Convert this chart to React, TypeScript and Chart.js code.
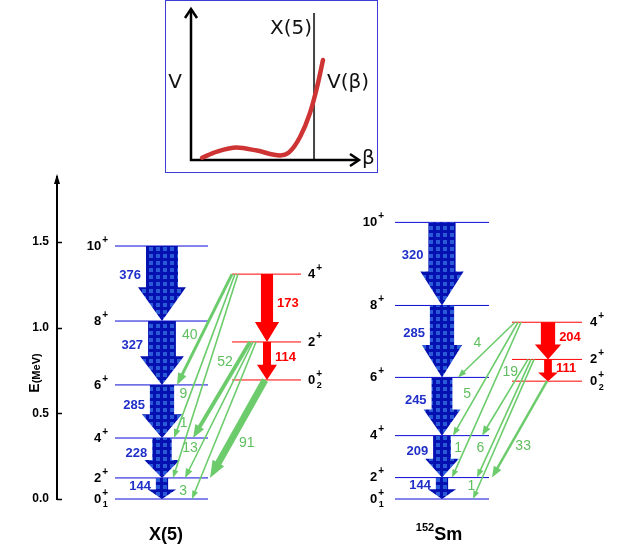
import React, { useEffect, useRef } from "react";
import { Chart, registerables } from "chart.js";
Chart.register(...registerables);

const FONT = "'Liberation Sans', Arial, sans-serif";
const INSET_FONT = "'DejaVu Sans', Verdana, sans-serif";

// ---------- data ----------
const groundSpins = ["0", "2", "4", "6", "8", "10"];
const bandSpins = ["0", "2", "4"];
// level energies (MeV)
const x5Ground = [0, 0.123, 0.356, 0.666, 1.039, 1.477];
const x5Band = [0.695, 0.917, 1.313];
const smGround = [0, 0.125, 0.37, 0.71, 1.13, 1.615];
const smBand = [0.688, 0.815, 1.032];
// B(E2) values, in-band (2->0, 4->2, ...)
const x5GroundBE2 = [144, 228, 285, 327, 376];
const x5BandBE2 = [114, 173];
const smGroundBE2 = [144, 209, 245, 285, 320];
const smBandBE2 = [111, 204];
// inter-band transitions: band level index -> ground level index
const interFrom = [2, 2, 2, 1, 1, 1, 0];
const interTo = [3, 2, 1, 2, 1, 0, 1];
const x5Inter = [40, 9, 1, 52, 13, 3, 91];
const smInter = [4, 5, 1, 19, 6, 1, 33];
// axis
const axisTicks = [0, 0.5, 1.0, 1.5];
const energyMax = 1.88;
const columnNames = ["X(5)", "Sm"];

// inset potential V(beta)
const betaVals = [0.065, 0.154, 0.27, 0.39, 0.527, 0.58, 0.645, 0.704, 0.746, 0.781];
const potVals = [0.015, 0.055, 0.082, 0.062, 0.03, 0.05, 0.151, 0.309, 0.48, 0.658];
const wallBeta = 0.728;

// ---------- layout (x in units from the energy axis) ----------
const x5Layout = {
  groundX: [58, 151], bandX: [175, 244], gCenter: 105, bCenter: 210,
  gLabelX: 51, bLabelX: 251, nameX: 109,
  interStart: [175, 178, 181, 193, 196, 199, 208],
  interEnd: [120, 117, 116, 136, 128, 135, 153],
  labT: [0.55, 0.73, 0.73, 0.21, 0.78, 0.95, 0.64],
  labDx: [-12, -7, -7, -13, -10, -12, 17],
};
const smLayout = {
  groundX: [338, 432], bandX: [455, 525], gCenter: 385, bCenter: 491,
  gLabelX: 327, bLabelX: 533, nameX: 382,
  interStart: [458, 461, 464, 471, 474, 477, 490],
  interEnd: [401, 396, 395, 425, 420, 416, 435],
  labT: [0.38, 0.63, 0.81, 0.17, 0.75, 0.91, 0.67],
  labDx: [-16, -10, -7, -10, -10, -7, 13],
};

const columns = [
  { ground: x5Ground, band: x5Band, gBE2: x5GroundBE2, bBE2: x5BandBE2, inter: x5Inter, L: x5Layout, name: columnNames[0] },
  { ground: smGround, band: smBand, gBE2: smGroundBE2, bBE2: smBandBE2, inter: smInter, L: smLayout, name: columnNames[1] },
];

const BLUE_LINE = "#0a0ad8";
const BLUE_TEXT = "#1f2fc8";
const RED = "#ff0000";
const GREEN = "#6ccc6c";
const GREEN_TEXT = "#5fbf5f";

function makePattern(ctx: CanvasRenderingContext2D) {
  const c = document.createElement("canvas");
  c.width = 7; c.height = 7;
  const p = c.getContext("2d")!;
  p.fillStyle = "#0410b0";
  p.fillRect(0, 0, 7, 7);
  p.fillStyle = "#2a5ad8";
  p.fillRect(2, 2, 4, 4);
  return ctx.createPattern(c, "repeat")!;
}

function blockArrow(ctx: CanvasRenderingContext2D, cx: number, y0: number, y1: number, sw: number, hw: number, hl: number, fill: any) {
  ctx.fillStyle = fill;
  ctx.beginPath();
  ctx.moveTo(cx - sw / 2, y0);
  ctx.lineTo(cx + sw / 2, y0);
  ctx.lineTo(cx + sw / 2, y1 - hl);
  ctx.lineTo(cx + hw / 2, y1 - hl);
  ctx.lineTo(cx, y1);
  ctx.lineTo(cx - hw / 2, y1 - hl);
  ctx.lineTo(cx - sw / 2, y1 - hl);
  ctx.closePath();
  ctx.fill();
}

function lineArrow(ctx: CanvasRenderingContext2D, x0: number, y0: number, x1: number, y1: number, w: number, hl: number, hw: number, color: string) {
  const dx = x1 - x0, dy = y1 - y0;
  const len = Math.hypot(dx, dy);
  const ux = dx / len, uy = dy / len;
  const bx = x1 - ux * hl, by = y1 - uy * hl;
  ctx.strokeStyle = color;
  ctx.lineWidth = w;
  ctx.lineCap = "butt";
  ctx.beginPath();
  ctx.moveTo(x0, y0);
  ctx.lineTo(bx + ux, by + uy);
  ctx.stroke();
  ctx.fillStyle = color;
  ctx.beginPath();
  ctx.moveTo(x1, y1);
  ctx.lineTo(bx - uy * hw / 2, by + ux * hw / 2);
  ctx.lineTo(bx + uy * hw / 2, by - ux * hw / 2);
  ctx.closePath();
  ctx.fill();
}

function spinLabel(ctx: CanvasRenderingContext2D, x: number, y: number, J: string, sub: string, align: "left" | "right") {
  ctx.font = `bold 13px ${FONT}`;
  const wMain = ctx.measureText(J).width;
  ctx.font = `10px ${FONT}`;
  const wSup = ctx.measureText("+").width;
  ctx.font = `bold 9px ${FONT}`;
  const wSub = sub ? ctx.measureText(sub).width : 0;
  const total = wMain + 1 + Math.max(wSup, wSub);
  const left = align === "right" ? x - total : x;
  ctx.textAlign = "left";
  ctx.textBaseline = "middle";
  ctx.fillStyle = "#000";
  ctx.font = `bold 13px ${FONT}`;
  ctx.fillText(J, left, y);
  ctx.font = `bold 10px ${FONT}`;
  ctx.fillText("+", left + wMain + 1, y - 6);
  if (sub) {
    ctx.font = `bold 9px ${FONT}`;
    ctx.fillText(sub, left + wMain + 1.5, y + 6);
  }
}

const schemePlugin = {
  id: "scheme",
  afterDatasetsDraw(chart: any) {
    const ctx: CanvasRenderingContext2D = chart.ctx;
    const xs = chart.scales.x, ys = chart.scales.y;
    const X = (v: number) => xs.getPixelForValue(v);
    const Y = (v: number) => ys.getPixelForValue(v);
    const pattern = makePattern(ctx);
    ctx.save();
    for (const col of columns) {
      const L = col.L;
      // ground band (blue block arrows)
      for (let i = col.ground.length - 1; i >= 1; i--) {
        const v = col.gBE2[i - 1];
        const y0 = Y(col.ground[i]), y1 = Y(col.ground[i - 1]);
        const len = y1 - y0;
        const sw = v * 0.085, hl = Math.min(34, 0.45 * len), hw = sw + 16;
        blockArrow(ctx, X(L.gCenter), y0, y1, sw, hw, hl, pattern);
        ctx.font = `bold 13px ${FONT}`;
        ctx.fillStyle = BLUE_TEXT;
        ctx.textAlign = "right";
        ctx.textBaseline = "middle";
        ctx.fillText(String(v), X(L.gCenter) - sw / 2 - 5, (y0 + y1 - hl * 0.5) / 2);
      }
      // excited band (red arrows)
      for (let i = col.band.length - 1; i >= 1; i--) {
        const v = col.bBE2[i - 1];
        const y0 = Y(col.band[i]), y1 = Y(col.band[i - 1]);
        const len = y1 - y0;
        const sw = v * 0.07, hl = Math.min(20, 0.4 * len), hw = sw + 12;
        blockArrow(ctx, X(L.bCenter), y0, y1, sw, hw, hl, RED);
        ctx.font = `bold 13px ${FONT}`;
        ctx.fillStyle = RED;
        ctx.textAlign = "left";
        ctx.textBaseline = "middle";
        ctx.fillText(String(v), X(L.bCenter) + sw / 2 + 4, (y0 + y1 - hl * 0.5) / 2);
      }
      // inter-band (green arrows)
      col.inter.forEach((v, k) => {
        const yA = Y(col.band[interFrom[k]]), yB = Y(col.ground[interTo[k]]);
        const xA = X(L.interStart[k]), xB = X(L.interEnd[k]);
        const w = Math.max(1.6, v * 0.075);
        lineArrow(ctx, xA, yA, xB, yB, w, 8 + v * 0.1, 6 + v * 0.08, GREEN);
        const t = L.labT[k];
        ctx.font = `14px ${FONT}`;
        ctx.fillStyle = GREEN_TEXT;
        ctx.textAlign = "center";
        ctx.textBaseline = "middle";
        ctx.fillText(String(v), xA + t * (xB - xA) + L.labDx[k], yA + t * (yB - yA));
      });
      // spin labels
      col.ground.forEach((e, i) => spinLabel(ctx, X(L.gLabelX), Y(e), groundSpins[i], i === 0 ? "1" : "", "right"));
      col.band.forEach((e, i) => spinLabel(ctx, X(L.bLabelX), Y(e), bandSpins[i], i === 0 ? "2" : "", "left"));
    }
    ctx.restore();
  },
  afterDraw(chart: any) {
    const ctx: CanvasRenderingContext2D = chart.ctx;
    const xs = chart.scales.x, ys = chart.scales.y;
    const ax = chart.chartArea.left;
    ctx.save();
    // inward tick marks
    ctx.strokeStyle = "#000";
    ctx.lineWidth = 1.5;
    for (const t of axisTicks) {
      const y = Math.round(ys.getPixelForValue(t)) + 0.5;
      ctx.beginPath();
      ctx.moveTo(ax, y);
      ctx.lineTo(ax + 5, y);
      ctx.stroke();
    }
    // arrow tip at the top of axis
    const top = ys.getPixelForValue(energyMax);
    ctx.fillStyle = "#000";
    ctx.beginPath();
    ctx.moveTo(ax, top - 3);
    ctx.lineTo(ax - 3, top + 7);
    ctx.lineTo(ax + 3, top + 7);
    ctx.closePath();
    ctx.fill();
    // axis title
    ctx.translate(35, 373);
    ctx.rotate(-Math.PI / 2);
    ctx.font = `bold 14px ${FONT}`;
    const wE = ctx.measureText("E").width;
    ctx.font = `bold 11px ${FONT}`;
    const wM = ctx.measureText("(MeV)").width;
    const start = -(wE + wM) / 2;
    ctx.textAlign = "left";
    ctx.textBaseline = "middle";
    ctx.font = `bold 14px ${FONT}`;
    ctx.fillText("E", start, 0);
    ctx.font = `bold 11px ${FONT}`;
    ctx.fillText("(MeV)", start + wE, 2);
    ctx.setTransform(1, 0, 0, 1, 0, 0);
    // column names
    ctx.textBaseline = "middle";
    ctx.fillStyle = "#000";
    ctx.font = `bold 18px ${FONT}`;
    ctx.textAlign = "center";
    ctx.fillText(columns[0].name, xs.getPixelForValue(columns[0].L.nameX), 535);
    ctx.font = `bold 11px ${FONT}`;
    const wN = ctx.measureText("152").width;
    ctx.font = `bold 18px ${FONT}`;
    const wS = ctx.measureText(columns[1].name).width;
    const cx = xs.getPixelForValue(columns[1].L.nameX);
    const l = cx - (wN + wS) / 2;
    ctx.textAlign = "left";
    ctx.font = `bold 11px ${FONT}`;
    ctx.fillText("152", l, 528);
    ctx.font = `bold 18px ${FONT}`;
    ctx.fillText(columns[1].name, l + wN, 535);
    ctx.restore();
  },
};

function levelDatasets() {
  const ds: any[] = [];
  const mk = (xr: number[], e: number, color: string) => ({
    type: "line",
    data: [{ x: xr[0], y: e }, { x: xr[1], y: e }],
    borderColor: color,
    borderWidth: 1,
    pointRadius: 0,
    fill: false,
    clip: false,
  });
  for (const col of columns) {
    col.ground.forEach((e) => ds.push(mk(col.L.groundX, e, BLUE_LINE)));
    col.band.forEach((e) => ds.push(mk(col.L.bandX, e, RED)));
  }
  return ds;
}

const insetPlugin = {
  id: "inset",
  beforeDatasetsDraw(chart: any) {
    const ctx: CanvasRenderingContext2D = chart.ctx;
    const { left, right, top, bottom } = chart.chartArea;
    const xs = chart.scales.x;
    ctx.save();
    // frame
    ctx.strokeStyle = "#3c3cd6";
    ctx.lineWidth = 1;
    ctx.strokeRect(0.5, 0.5, chart.width - 1, chart.height - 1);
    // wall
    const wx = xs.getPixelForValue(wallBeta);
    ctx.strokeStyle = "#444";
    ctx.lineWidth = 2;
    ctx.beginPath();
    ctx.moveTo(wx, top + 5);
    ctx.lineTo(wx, bottom);
    ctx.stroke();
    // axes
    ctx.strokeStyle = "#000";
    ctx.lineWidth = 2.5;
    ctx.lineJoin = "miter";
    ctx.beginPath();
    ctx.moveTo(left, top + 1);
    ctx.lineTo(left, bottom);
    ctx.lineTo(right - 1, bottom);
    ctx.stroke();
    ctx.beginPath();
    ctx.moveTo(left - 6, top + 10);
    ctx.lineTo(left, top + 1);
    ctx.lineTo(left + 6, top + 10);
    ctx.stroke();
    ctx.beginPath();
    ctx.moveTo(right - 10, bottom - 6);
    ctx.lineTo(right - 1, bottom);
    ctx.lineTo(right - 10, bottom + 6);
    ctx.stroke();
    // texts
    ctx.fillStyle = "#111";
    ctx.font = `20px ${INSET_FONT}`;
    ctx.textBaseline = "middle";
    ctx.textAlign = "center";
    ctx.fillText("V", left - 16, 83);
    ctx.textAlign = "right";
    ctx.fillText("X(5)", wx - 2, 29);
    ctx.textAlign = "left";
    ctx.fillText("V(β)", wx + 13, 83);
    ctx.fillText("β", right + 2, bottom - 1);
    ctx.restore();
  },
};

export default function App() {
  const mainRef = useRef<HTMLCanvasElement>(null);
  const insetRef = useRef<HTMLCanvasElement>(null);
  useEffect(() => {
    const main = new Chart(mainRef.current!, {
      type: "line",
      data: { datasets: levelDatasets() },
      options: {
        responsive: false,
        animation: false,
        devicePixelRatio: 1,
        layout: { padding: { top: 177, bottom: 56, left: 0, right: 0 } },
        plugins: { legend: { display: false }, tooltip: { enabled: false } },
        scales: {
          x: { type: "linear", min: 0, max: 566, display: false },
          y: {
            type: "linear",
            min: 0,
            max: energyMax,
            position: "left",
            afterFit: (s: any) => { s.width = 57; },
            afterBuildTicks: (s: any) => { s.ticks = axisTicks.map((v) => ({ value: v })); },
            grid: { display: false, drawTicks: false },
            border: { display: true, color: "#000", width: 2 },
            ticks: {
              padding: 8,
              color: "#000",
              font: { family: FONT, size: 12, weight: "bold" },
              callback: (v: any) => Number(v).toFixed(1),
            },
          },
        },
      } as any,
      plugins: [schemePlugin],
    } as any);
    const inset = new Chart(insetRef.current!, {
      type: "line",
      data: {
        datasets: [
          {
            data: betaVals.map((b, i) => ({ x: b, y: potVals[i] })),
            borderColor: "#cf3434",
            borderWidth: 4.5,
            borderCapStyle: "round",
            cubicInterpolationMode: "monotone",
            pointRadius: 0,
            fill: false,
            clip: false,
          },
        ],
      },
      options: {
        responsive: false,
        animation: false,
        devicePixelRatio: 1,
        layout: { padding: { left: 26, top: 8, right: 18, bottom: 13 } },
        plugins: { legend: { display: false }, tooltip: { enabled: false } },
        scales: {
          x: { type: "linear", min: 0, max: 1, display: false },
          y: { type: "linear", min: 0, max: 1, display: false },
        },
      } as any,
      plugins: [insetPlugin],
    } as any);
    return () => {
      main.destroy();
      inset.destroy();
    };
  }, []);
  return (
    <div style={{ position: "absolute", left: 0, top: 0, width: 623, height: 555, background: "#fff" }}>
      <canvas ref={mainRef} width={623} height={555} style={{ position: "absolute", left: 0, top: 0 }} />
      <canvas ref={insetRef} width={213} height={173} style={{ position: "absolute", left: 165, top: 0 }} />
    </div>
  );
}
